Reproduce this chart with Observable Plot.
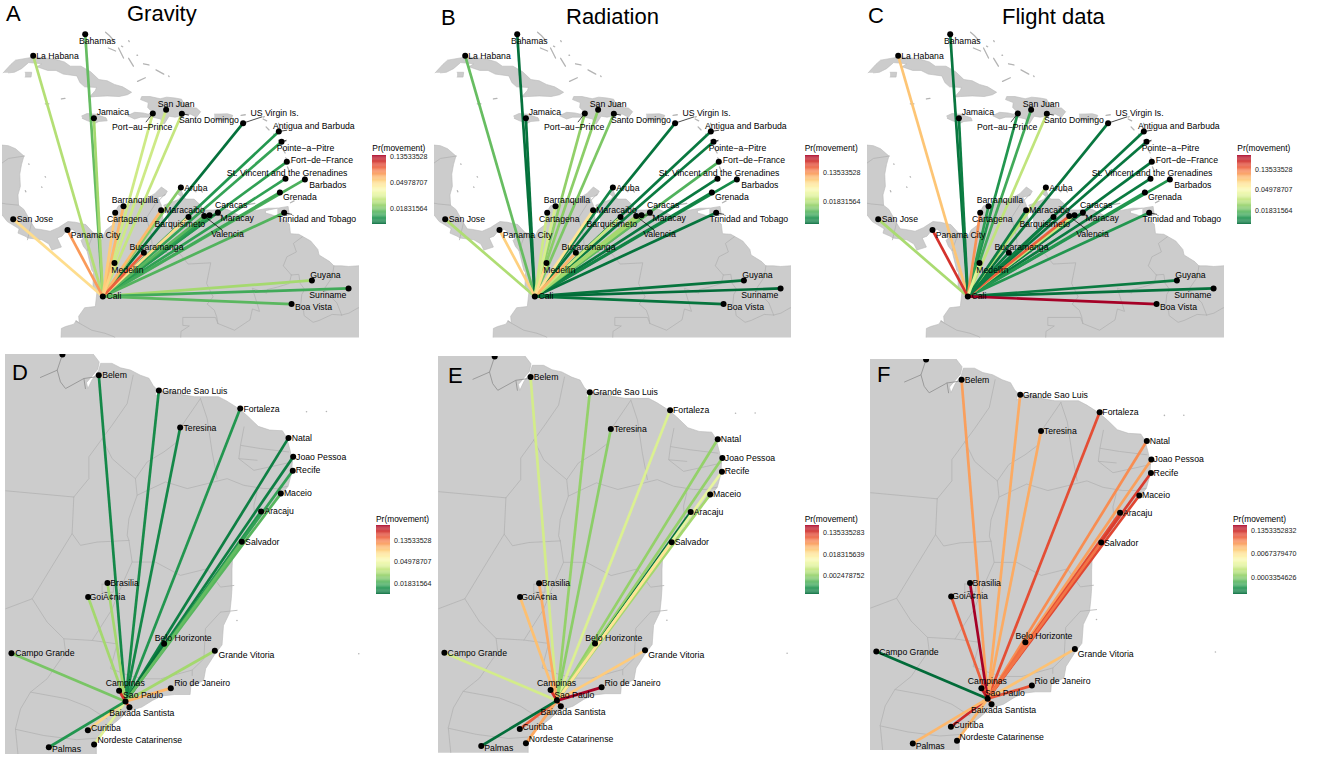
<!DOCTYPE html>
<html><head><meta charset="utf-8">
<script src="https://cdn.jsdelivr.net/npm/d3@7"></script>
<script src="https://cdn.jsdelivr.net/npm/@observablehq/plot@0.6"></script>
<style>
html,body{margin:0;padding:0;background:#fff;}
#fig{position:relative;width:1317px;height:758px;overflow:hidden;font-family:"Liberation Sans",Arial,sans-serif;color:#000;}
#fig>div{position:absolute;white-space:nowrap;line-height:1;}
#fig svg{display:block;overflow:visible;}
</style></head><body><div id="fig"></div>
<script>
// ---------- Caribbean / northern South America (lon, lat) ----------
const carHub = "Cali", carHubLon = -76.57, carHubLat = 3.43, carHubLabelLon = -75.64, carHubLabelLat = 3.43;
const carCities = ["Bahamas","La Habana","Jamaica","Port\u2212au\u2212Prince","San Juan","Santo Domingo","US Virgin Is.","Antigua and Barbuda","Pointe\u2212a\u2212Pitre","Fort\u2212de\u2212France","St. Vincent and the Grenadines","Barbados","Grenada","Trinidad and Tobago","Aruba","Caracas","Maracay","Valencia","Barquisimeto","Maracaibo","Barranquilla","Cartagena","San Jose","Panama City","Bucaramanga","Medellin","Guyana","Suriname","Boa Vista"];
const carLon = [-78.05,-82.42,-77.32,-72.37,-71.25,-69.93,-64.78,-61.78,-61.55,-61.11,-61.22,-59.59,-61.69,-61.33,-70.01,-66.9,-67.6,-68.05,-69.37,-71.67,-74.83,-75.53,-84.1,-79.54,-73.12,-75.59,-59.0,-55.92,-60.71];
const carLat = [25.04,23.26,18.12,18.51,18.81,18.48,17.71,17.02,16.17,14.52,13.13,13.07,12.0,10.32,12.41,10.35,10.13,10.05,9.97,10.54,10.87,10.32,9.8,8.9,7.03,6.18,4.75,4.09,2.8];
const carLabelLon = [-77.04,-80.38,-75.73,-73.26,-70.41,-67.66,-62.14,-58.84,-59.54,-58.16,-61.08,-57.66,-60.01,-58.59,-68.75,-65.78,-65.28,-66.09,-70.1,-69.71,-73.88,-74.52,-82.28,-77.18,-72.06,-74.5,-57.86,-57.66,-58.87];
const carLabelLat = [24.49,23.23,18.62,17.35,19.28,17.96,18.56,17.49,15.65,14.63,13.62,12.63,11.61,9.77,12.38,10.96,9.88,8.57,9.42,10.54,11.37,9.77,9.8,8.48,7.5,5.63,5.22,3.57,2.53];
const carLeaderCity = [3,5,6,7,8,17,16,13];
const carLeaderLon = [-72.95,-69.34,-63.18,-61.08,-61.13,-66.54,-66.54,-60.66];
const carLeaderLat = [17.79,18.37,18.23,17.13,16.3,8.9,10.13,10.19];

const prGravity   = [.0172,.0241,.0224,.0275,.0275,.0262,.0106,.0132,.0143,.014,.014,.0157,.015,.016,.0196,.0132,.014,.0165,.0491,.06,.0605,.0545,.0491,.069,.088,.0525,.0224,.015,.0165];
const prRadiation = [.0039,.0096,.004,.0133,.0127,.0113,.004,.0042,.0043,.0082,.0042,.005,.0047,.004,.0048,.0094,.0154,.0154,.0215,.0605,.025,.0227,.017,.077,.098,.0665,.004,.0037,.004];
const prFlight    = [.0104,.083,.011,.0131,.0155,.0305,.0104,.0104,.0104,.0104,.0107,.0131,.0131,.0131,.0283,.011,.0325,.146,.011,.011,.014,.112,.0265,.189,.011,.0385,.0107,.01,.264];

const carMainland = [[-85.6,15.95],[-84.5,15.85],[-83.9,15.6],[-83.2,15.0],[-83.4,14.3],[-83.55,13.5],[-83.5,12.5],[-83.7,11.8],[-83.65,10.95],[-83.2,10.6],[-82.6,9.55],[-82.25,9.0],[-81.8,8.95],[-81.0,8.8],[-80.3,9.1],[-79.9,9.35],[-79.5,9.6],[-78.9,9.55],[-78.0,9.35],[-77.35,8.65],[-76.8,8.6],[-76.75,7.95],[-76.3,8.9],[-75.65,9.4],[-75.55,10.4],[-75.25,10.9],[-74.8,11.05],[-74.3,10.95],[-74.2,11.3],[-73.3,11.3],[-72.2,11.9],[-71.65,12.45],[-71.15,12.1],[-71.35,11.75],[-71.95,11.6],[-71.65,10.95],[-71.6,10.4],[-71.4,9.2],[-71.05,9.2],[-71.05,10.0],[-71.45,10.95],[-70.25,11.4],[-70.0,11.65],[-70.3,11.9],[-70.0,12.2],[-69.75,11.6],[-69.6,11.45],[-68.9,11.45],[-68.3,10.9],[-68.2,10.55],[-67.3,10.55],[-66.3,10.65],[-66.0,10.55],[-65.1,10.1],[-64.6,10.2],[-64.2,10.45],[-63.8,10.5],[-62.7,10.7],[-61.9,10.7],[-62.9,10.5],[-62.9,10.3],[-62.5,10.2],[-61.6,9.9],[-60.9,9.4],[-60.8,8.6],[-60.1,8.55],[-59.1,8.0],[-58.5,7.3],[-58.4,6.85],[-57.5,6.3],[-57.15,5.95],[-56.5,5.95],[-55.9,5.9],[-54.5,6.0],[-54.5,-0.5],[-80.1,-0.5],[-80.05,0.8],[-79.7,0.95],[-79.0,1.15],[-78.8,1.45],[-78.55,1.25],[-78.6,1.8],[-78.1,2.5],[-77.2,2.6],[-77.05,3.9],[-77.4,4.2],[-77.35,5.4],[-77.5,5.6],[-77.9,7.2],[-78.2,7.55],[-78.4,8.05],[-78.1,8.35],[-78.45,8.4],[-79.1,8.95],[-79.55,8.95],[-80.0,8.4],[-80.4,8.25],[-80.05,7.5],[-80.85,7.25],[-81.1,7.75],[-81.7,8.1],[-82.9,8.25],[-83.0,8.35],[-83.7,8.65],[-83.6,9.0],[-84.6,9.6],[-85,10.1],[-85.6,10.1]];
const carCuba = [[-84.95,21.85],[-84.3,22.55],[-83.9,22.9],[-82.7,23.1],[-82.35,23.18],[-81.6,23.1],[-81.1,23.05],[-80.5,22.95],[-79.8,22.75],[-79.3,22.4],[-78.4,22.4],[-77.6,21.95],[-76.9,21.3],[-76.2,21.2],[-75.6,20.9],[-74.9,20.7],[-74.15,20.25],[-74.5,20.05],[-75.2,19.9],[-76.2,19.95],[-77.2,19.9],[-77.7,19.85],[-77.2,20.4],[-77.1,20.65],[-78.1,20.7],[-78.5,21.05],[-78.75,21.6],[-79.9,21.75],[-80.5,22.05],[-81.2,22.05],[-82.1,22.35],[-81.7,22.6],[-82.8,22.7],[-83.4,22.2],[-84.0,21.9],[-84.5,21.85]];
const carJuventud = [[-83.1,21.9],[-82.55,21.9],[-82.6,21.5],[-83.1,21.5]];
const carJamaica = [[-78.35,18.3],[-77.9,18.5],[-77.2,18.45],[-76.3,18.15],[-76.2,17.9],[-76.9,17.85],[-77.2,17.7],[-77.85,17.9],[-78.3,18.1]];
const carHispaniola = [[-74.45,18.35],[-73.9,18.6],[-73.2,18.55],[-72.75,18.45],[-72.4,18.6],[-72.8,19.0],[-72.75,19.4],[-73.4,19.65],[-73.3,19.9],[-72.6,19.9],[-71.75,19.72],[-71.2,19.85],[-70.5,19.78],[-69.95,19.68],[-69.75,19.3],[-69.2,19.35],[-69.6,19.1],[-69.25,19.0],[-68.7,18.95],[-68.35,18.65],[-68.7,18.2],[-69.2,18.45],[-69.95,18.42],[-70.2,18.25],[-70.5,18.2],[-71.0,18.28],[-71.4,17.65],[-71.65,17.75],[-71.7,18.05],[-72.4,18.2],[-73.4,18.2],[-73.9,18.05],[-74.45,18.3]];
const carPuertoRico = [[-67.2,18.45],[-66.1,18.48],[-65.65,18.35],[-65.8,18.0],[-67.2,17.95]];
const carTrinidad = [[-61.9,10.7],[-61.0,10.85],[-60.9,10.15],[-61.9,10.05]];
const carIslets = [[-76.34,25.2,-76.0,24.9],[-75.95,24.85,-75.67,24.55],[-76.1,23.9,-75.5,23.65],[-75.25,23.9,-74.83,23.07],[-75.0,24.05,-74.9,24.0],[-74.4,24.5,-74.35,24.42],[-74.4,23.05,-74.0,22.4],[-73.7,23.3,-73.65,23.3],[-73.15,22.6,-72.7,22.5],[-72.1,22.1,-71.45,21.75],[-71.05,21.6,-71.0,21.55],[-73.65,21.15,-73.0,21.45],[-81.4,19.3,-81.1,19.3],[-80.05,19.7,-79.75,19.75],[-82.8,14.35,-82.77,14.32],[-81.42,13.3,-81.38,13.26],[-81.72,12.46,-81.68,12.42],[-83.08,12.15,-83.04,12.05],[-64.95,18.35,-64.6,18.4],[-64.85,17.75,-64.6,17.72],[-63.1,18.2,-63,18.25],[-63.1,18.05,-62.8,17.9],[-62.85,17.4,-62.6,17.15],[-61.8,17.7,-61.75,17.55],[-61.85,17.15,-61.7,17.05],[-62.2,16.8,-62.15,16.7],[-61.8,16.3,-61.2,16.2],[-61.75,16.05,-61.55,16.2],[-61.45,15.6,-61.25,15.25],[-61.2,14.85,-60.85,14.45],[-61.05,14.1,-60.9,13.75],[-61.25,13.35,-61.15,13.15],[-59.65,13.3,-59.45,13.05],[-61.75,12.2,-61.6,12.0],[-60.8,11.15,-60.5,11.3],[-64.4,11.0,-63.8,11.1],[-70.05,12.6,-69.88,12.42],[-69.15,12.38,-68.75,12.05],[-68.4,12.3,-68.2,12.03]];
const carBorders = [
 [[-71.35,11.85],[-72.2,11.0],[-72.9,9.9],[-72.5,8.5],[-72.4,7.4],[-71.0,7.0],[-70.1,6.95],[-69.4,6.1],[-67.5,6.2],[-67.85,4.5],[-67.3,3.4],[-67.8,2.8],[-67.2,2.3],[-67.0,1.75],[-66.9,1.2]],
 [[-66.9,1.2],[-67.1,1.7],[-69.85,1.7],[-69.85,1.05],[-69.3,1.0],[-70.0,0.55],[-70.05,-0.5]],
 [[-78.85,1.4],[-77.5,0.65],[-76.4,0.4],[-75.6,0.1],[-75.3,-0.5]],
 [[-77.35,8.65],[-77.9,7.2]],
 [[-82.55,9.55],[-82.9,8.1]],
 [[-83.65,10.95],[-84.7,11.05],[-85.5,11.2]],
 [[-83.15,15.0],[-84.5,14.8],[-85.5,14.1]],
 [[-66.9,1.2],[-65.5,0.65],[-64.2,1.5],[-64.0,2.4],[-63.4,2.2],[-64.0,4.1],[-62.8,3.7],[-62.75,4.0],[-61.9,4.2],[-60.9,4.5],[-60.73,5.2]],
 [[-60.73,5.2],[-61.4,5.95],[-61.1,6.7],[-60.3,7.1],[-60.55,7.8],[-59.8,8.35]],
 [[-60.73,5.2],[-60.1,5.25],[-59.98,4.5],[-59.6,4.0],[-59.85,3.6],[-59.95,2.6],[-59.7,2.25],[-59.65,1.85],[-58.9,1.3],[-58.4,1.45],[-57.3,1.95],[-56.5,1.9]],
 [[-56.5,1.9],[-56.9,2.9],[-58.0,4.0],[-57.3,5.0],[-57.15,5.95]],
 [[-56.5,1.9],[-55.9,2.05],[-55.1,2.5],[-54.6,2.3]]
];

// ---------- Brazil (lon, lat) ----------
const braHub = "Sao Paulo", braHubLon = -46.55, braHubLat = -23.42, braHubLabelLon = -45.31, braHubLabelLat = -23.02;
const braCities = ["Belem","Grande Sao Luis","Fortaleza","Teresina","Natal","Joao Pessoa","Aracaju","Recife","Maceio","Belo Horizonte","Salvador","Brasilia","GoiÃ¢nia","Campo Grande","Grande Vitoria","Rio de Janeiro","Campinas","Baixada Santista","Curitiba","Nordeste Catarinense","Palmas"];
const braLon = [-48.43,-44.2,-38.47,-42.7,-35.07,-34.74,-37,-34.77,-35.61,-43.83,-38.36,-47.82,-49.18,-54.58,-40.26,-43.36,-47.0,-46.27,-49.2,-48.76,-51.95];
const braLat = [-1.4,-2.43,-3.65,-4.93,-5.63,-6.91,-10.59,-7.84,-9.39,-19.53,-12.64,-15.43,-16.37,-20.16,-20.0,-22.52,-22.7,-23.81,-25.36,-26.33,-26.51];
const braLabelLon = [-47.32,-41.67,-36.97,-41.31,-34.13,-32.77,-35.73,-33.69,-34.41,-42.49,-36.92,-46.62,-47.82,-52.23,-38.03,-41.15,-46.57,-45.4,-47.93,-45.54,-50.7];
const braLabelLat = [-1.42,-2.45,-3.67,-4.95,-5.63,-6.91,-10.59,-7.84,-9.39,-19.14,-12.66,-15.43,-16.37,-20.18,-20.32,-22.21,-22.21,-24.23,-25.25,-26.06,-26.67];
const braNorthDotLon = -50.99, braNorthDotLat = 0;

const prGravityBr   = [.0139,.0142,.0154,.0139,.0131,.0131,.0154,.0168,.02,.012,.0212,.0291,.0291,.0233,.0291,.0975,.196,.167,.08,.0425,.0154];
const prRadiationBr = [.0055,.0026,.0062,.0024,.0026,.0026,.00052,.0075,.0031,.0031,.0185,.0396,.031,.0055,.0268,.25,.141,.1,.085,.04,.0005];
const prFlightBr    = [.0225,.0187,.072,.0187,.029,.0225,.072,.092,.08,.0455,.0415,.267,.055,.00004,.013,.065,.17,.0455,.13,.016,.0155];

const braLand = [[-48.8,0.6],[-48.8,0],[-48.4,-0.5],[-48.5,-1.0],[-49.3,-1.9],[-49.2,-2.3],[-48.9,-1.7],[-48.45,-1.1],[-48.3,-0.6],[-47.5,-0.6],[-46.9,-0.9],[-46.2,-1.05],[-45.5,-1.4],[-44.9,-1.6],[-44.6,-2.1],[-44.4,-2.3],[-44.45,-2.8],[-44.0,-2.5],[-43.4,-2.4],[-42.6,-2.7],[-41.7,-2.85],[-41.0,-2.85],[-40.0,-2.85],[-39.4,-3.15],[-38.5,-3.7],[-37.9,-4.2],[-37.2,-4.85],[-36.4,-5.1],[-35.5,-5.15],[-35.2,-5.6],[-34.95,-6.5],[-34.8,-7.2],[-34.85,-8.0],[-35.1,-8.9],[-35.7,-9.6],[-36.4,-10.4],[-37.0,-11.0],[-37.5,-11.6],[-38.0,-12.5],[-38.5,-13.0],[-39.0,-13.5],[-39.05,-14.5],[-39.05,-15.8],[-39.1,-16.5],[-39.2,-17.4],[-39.65,-18.3],[-39.75,-19.6],[-40.3,-20.3],[-40.9,-21.2],[-41.05,-22.0],[-41.95,-22.4],[-42.0,-22.95],[-43.1,-22.95],[-44.0,-23.05],[-44.65,-23.35],[-45.4,-23.8],[-46.4,-24.1],[-47.1,-24.7],[-48.05,-25.4],[-48.6,-25.9],[-48.6,-26.5],[-48.6,-27.5],[-56,-27.5],[-56,0.6]];
const braBorders = [
 [[-54.98,-9.2],[-50.19,-9.62]],
 [[-50.19,-9.62],[-49.13,-8.38],[-49.13,-6.91],[-48.19,-5.68],[-47.49,-4.77],[-46.43,-3.31],[-46.01,-1.4]],
 [[-48.19,-5.68],[-47.49,-7.03],[-46.55,-7.82],[-45.85,-8.38],[-45.73,-9.5],[-46.31,-11.08],[-46.43,-12.2],[-46.31,-12.55]],
 [[-41.27,-2.97],[-42.56,-4.77],[-42.91,-5.9],[-43.85,-6.58],[-45.02,-7.25],[-45.85,-8.38]],
 [[-41.27,-2.97],[-40.8,-4.32],[-40.45,-6.58],[-40.09,-8.38]],
 [[-45.73,-9.5],[-43.73,-8.6],[-42.2,-9.05],[-40.8,-8.72],[-39.39,-8.38],[-38.22,-8.83],[-36.81,-9.05],[-35.9,-9.05],[-35.15,-8.9]],
 [[-38.2,-4.89],[-38.45,-6.13],[-38.57,-7.03],[-37.28,-7.14]],
 [[-38.45,-6.13],[-37.04,-6.35],[-35.05,-6.58]],
 [[-38.57,-7.03],[-37.51,-7.82],[-35.87,-7.48],[-34.81,-7.25]],
 [[-37.28,-9.28],[-37.51,-10.18],[-37.4,-11.5]],
 [[-46.31,-12.55],[-46.08,-14.01],[-44.44,-14.01],[-42.68,-14.91],[-40.8,-14.46],[-39.86,-15.7],[-38.92,-15.59]],
 [[-46.31,-12.55],[-48.54,-12.66],[-49.72,-12.88],[-50.31,-12.09],[-50.19,-9.62]],
 [[-50.31,-12.09],[-51.83,-14.46],[-53.12,-16.49],[-54.98,-17.16]],
 [[-53.12,-16.49],[-52.07,-18.06],[-50.89,-19.19],[-50.77,-20.09],[-52.07,-21.89],[-53.24,-22.79],[-53.94,-23.92],[-54.3,-25.27],[-54.1,-27.2]],
 [[-50.89,-19.19],[-48.9,-19.3],[-47.14,-19.53],[-47.6,-21.2],[-46.31,-21.67],[-45.26,-21.89],[-44.08,-21.89],[-41.85,-21.3]],
 [[-46.08,-14.01],[-47.0,-16.0],[-47.5,-17.2],[-48.9,-19.3]],
 [[-39.86,-17.39],[-40.92,-18.5],[-41.03,-20.54],[-41.85,-21.3],[-41.85,-21.67]],
 [[-39.86,-17.39],[-38.69,-17.27]],
 [[-53.24,-22.79],[-50.66,-23.24],[-49.13,-23.81],[-47.84,-24.6]],
 [[-54.3,-25.3],[-52.3,-25.72],[-50.0,-26.0],[-48.6,-25.9]],
 [[-48.2,-15.5],[-47.4,-15.5],[-47.4,-16.05],[-48.2,-16.05],[-48.2,-15.5]]
];
const braRivers = [
 [[-50.99,0],[-51.36,-1.06],[-52.54,-1.55]],
 [[-51.36,-1.06],[-51.13,-1.85],[-50.77,-2.3],[-49.48,-1.62],[-48.66,-1.51]],
 [[-49.48,-1.62],[-49.37,-2.3]]
];
const braIsletLon = [-33.8,-32.4,-38.7,-30.12];
const braIsletLat = [-3.86,-3.85,-17.95,-20.2];

// ---------- Panels ----------
const titles = ["Gravity","Radiation","Flight data"];
const letters = ["A","B","C","D","E","F"];
const legendTitle = "Pr(movement)";
const breaksA = ["0.13533528","0.04978707","0.01831564"];
const breaksB = ["0.13533528","0.01831564"];
const breaksC = ["0.13533528","0.04978707","0.01831564"];
const breaksD = ["0.13533528","0.04978707","0.01831564"];
const breaksE = ["0.135335283","0.018315639","0.002478752"];
const breaksF = ["0.1353352832","0.0067379470","0.0003354626"];
const domainA = [.0101,.141], domainB = [.00355,.47], domainC = [.0094,.264], domainD = [.0112,.27], domainE = [.00046,.264], domainF = [.0000375,.267];

const fig = document.getElementById("fig");
function place(node,x,y){const d=document.createElement("div");d.style.left=x+"px";d.style.top=y+"px";d.append(node);fig.append(d);return d;}
function label(txt,x,y,size){const d=place(document.createTextNode(txt),x,y);d.style.fontSize=size+"px";return d;}
const FONT = '"Liberation Sans",Arial,sans-serif';

function rows(names,lon,lat,lx,ly){return names.map((name,i)=>({name,lon:lon[i],lat:lat[i],lx:lx[i],ly:ly[i]}));}
const polyMark = (pts)=>Plot.line(pts,{x:d=>d[0],y:d=>d[1],fill:"#cccccc",stroke:"#b8b8b8",strokeWidth:.6,clip:true});
const lineMark = (pts,col,w)=>Plot.line(pts,{x:d=>d[0],y:d=>d[1],stroke:col,strokeWidth:w,clip:true});

function mapPlot(o){
  const cities = rows(o.names,o.lon,o.lat,o.lx,o.ly).map((d,i)=>({...d,pr:o.pr[i]}));
  const hub = {name:o.hub,lon:o.hubLon,lat:o.hubLat,lx:o.hubLx,ly:o.hubLy};
  return Plot.plot({
    width:o.w,height:o.h,margin:0,
    x:{domain:o.xd,axis:null},y:{domain:o.yd,axis:null},
    color:{type:"log",domain:o.domain,scheme:"RdYlGn",reverse:true},
    style:{fontFamily:FONT,background:"transparent",overflow:"visible"},
    marks:[
      ...o.polys.map(polyMark),
      ...(o.islets||[]),
      ...o.borders.map(b=>lineMark(b,"#b2b2b2",.8)),
      ...(o.rivers||[]).map(b=>lineMark(b,"#9a9a9a",1)),
      Plot.link(cities,{x1:()=>o.hubLon,y1:()=>o.hubLat,x2:"lon",y2:"lat",stroke:"pr",strokeWidth:2.7}),
      ...(o.leaders||[]),
      Plot.dot(cities,{x:"lon",y:"lat",r:3,fill:"#000"}),
      Plot.dot([hub],{x:"lon",y:"lat",r:3,fill:"#000"}),
      ...(o.extraDots||[]),
      Plot.text(cities,{x:"lx",y:"ly",text:"name",fontSize:8.7,fill:"#000"}),
      Plot.text([hub],{x:"lx",y:"ly",text:"name",fontSize:8.7,fill:"#000"})
    ]
  });
}
function legendPlot(domain,breaks,h){
  const n=80, lo=Math.log(domain[0]), hi=Math.log(domain[1]);
  const stops=d3.range(n).map(i=>({a:Math.exp(lo+(hi-lo)*i/n),b:Math.exp(lo+(hi-lo)*(i+1)/n)}));
  const ticks=breaks.map(s=>({v:+s,s}));
  return Plot.plot({
    width:70,height:h,margin:0,
    x:{domain:[0,70],range:[0,70],axis:null},
    y:{type:"log",domain,range:[h,0],axis:null},
    color:{type:"log",domain,scheme:"RdYlGn",reverse:true},
    style:{fontFamily:FONT,background:"transparent",overflow:"visible"},
    marks:[
      Plot.rect(stops,{x1:()=>0,x2:()=>14,y1:"a",y2:"b",fill:d=>Math.sqrt(d.a*d.b)}),
      Plot.text(ticks,{x:()=>17.5,y:"v",text:"s",textAnchor:"start",fontSize:7.1,fill:"#222"})
    ]
  });
}

const carIsletMarks = [
  Plot.link(carIslets,{x1:d=>d[0],y1:d=>d[1],x2:d=>d[2],y2:d=>d[3],stroke:"#b4b4b4",strokeWidth:1.3,strokeLinecap:"round",clip:true})
];
const carLeaders = carLeaderCity.map((c,i)=>({c,x2:carLeaderLon[i],y2:carLeaderLat[i]}));
const carLeaderMarks = [
  Plot.link(carLeaders,{x1:d=>carLon[d.c],y1:d=>carLat[d.c],x2:"x2",y2:"y2",stroke:"#000",strokeWidth:.7})
];
const braIslets = braIsletLon.map((lon,i)=>({lon,lat:braIsletLat[i]}));
const carBase = {names:carCities,lon:carLon,lat:carLat,lx:carLabelLon,ly:carLabelLat,hub:carHub,hubLon:carHubLon,hubLat:carHubLat,hubLx:carHubLabelLon,hubLy:carHubLabelLat,
  xd:[-85,-55],yd:[0,26],w:357,h:315.6,polys:[carMainland,carCuba,carJuventud,carJamaica,carHispaniola,carPuertoRico,carTrinidad],borders:carBorders,islets:carIsletMarks,leaders:carLeaderMarks};
const braBase = {names:braCities,lon:braLon,lat:braLat,lx:braLabelLon,ly:braLabelLat,hub:braHub,hubLon:braHubLon,hubLat:braHubLat,hubLx:braHubLabelLon,hubLy:braHubLabelLat,
  xd:[-55,-30],yd:[-27,0],polys:[braLand],borders:braBorders,rivers:braRivers,
  islets:[Plot.dot(braIslets,{x:"lon",y:"lat",r:.8,fill:"#b4b4b4"})],
  extraDots:[Plot.dot([{lon:braNorthDotLon,lat:braNorthDotLat}],{x:"lon",y:"lat",r:3,fill:"#000",clip:true})]};

const panels = [
 {...carBase,pr:prGravity,domain:domainA,left:2,top:22.4,lg:[372.3,154.5],breaks:breaksA},
 {...carBase,pr:prRadiation,domain:domainB,left:434,top:22.4,lg:[804.7,154.5],breaks:breaksB},
 {...carBase,pr:prFlight,domain:domainC,left:867,top:22.4,lg:[1237.3,154.5],breaks:breaksC},
 {...braBase,pr:prGravityBr,domain:domainD,left:5,top:354.3,w:355,h:400,lg:[376,525],breaks:breaksD},
 {...braBase,pr:prRadiationBr,domain:domainE,left:438,top:356,w:350.3,h:396.7,lg:[804.7,525],breaks:breaksE},
 {...braBase,pr:prFlightBr,domain:domainF,left:870,top:358.7,w:346.6,h:391,lg:[1233,525],breaks:breaksF}
];
panels.forEach((p,i)=>{
  place(mapPlot(p),p.left,p.top);
  place(legendPlot(p.domain,p.breaks,69),p.lg[0],p.lg[1]);
  label(legendTitle,p.lg[0],p.lg[1]-10.5,8.4);
});
[[6,2.5],[441,6.5],[868,4.5],[12,361.5],[448,365],[877,364]].forEach(([x,y],i)=>label(letters[i],x,y,22));
[[127,2.5],[566,5.5],[1002,5.5]].forEach(([x,y],i)=>label(titles[i],x,y,22));
</script></body></html>
